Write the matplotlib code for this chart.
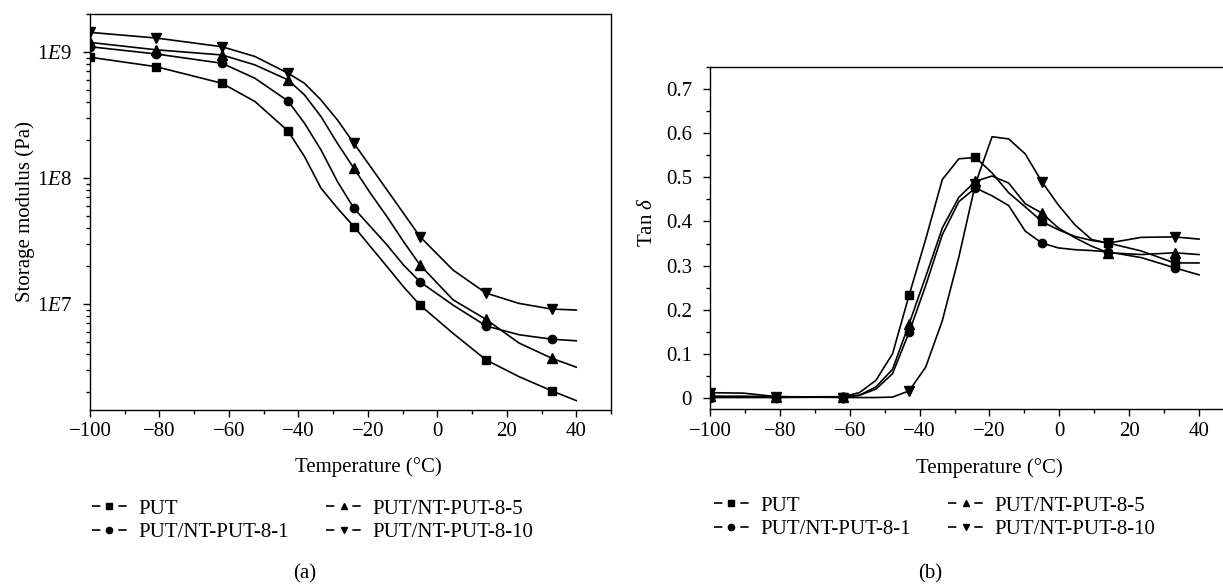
import matplotlib
matplotlib.use("Agg")
import matplotlib.pyplot as plt
from matplotlib.lines import Line2D
from matplotlib.ticker import LogLocator, NullFormatter, MultipleLocator

plt.rcParams['font.family'] = ['Liberation Serif', 'DejaVu Serif']
plt.rcParams['font.size'] = 15
plt.rcParams['mathtext.fontset'] = 'custom'
plt.rcParams['mathtext.rm'] = 'Liberation Serif'
plt.rcParams['mathtext.it'] = 'Liberation Serif:italic'

names = ['PUT', 'PUT/NT-PUT-8-1', 'PUT/NT-PUT-8-5', 'PUT/NT-PUT-8-10']
markers = ['s', 'o', '^', 'v']
mark_temps = [-100, -81, -62, -43, -24, -5, 14, 33]

# (a) storage modulus, Pa
temp_a = [-100, -81, -62, -52.5, -43, -38.25, -33.5, -28.75, -24, -19.25,
          -14.5, -9.75, -5, 4.5, 14, 23.5, 33, 40]
mod_put = [9.08e8, 7.64e8, 5.64e8, 4.04e8, 2.36e8, 1.48e8, 8.3e7, 5.75e7, 4.11e7,
           2.85e7, 1.98e7, 1.37e7, 9.8e6, 5.85e6, 3.6e6, 2.65e6, 2.04e6, 1.71e6]
mod_nt1 = [1.10e9, 9.64e8, 8.13e8, 6.18e8, 4.08e8, 2.72e8, 1.67e8, 9.35e7, 5.74e7,
           4.11e7, 2.94e7, 2.04e7, 1.50e7, 9.8e6, 6.7e6, 5.7e6, 5.25e6, 5.1e6]
mod_nt5 = [1.19e9, 1.04e9, 9.46e8, 7.89e8, 6.0e8, 4.56e8, 3.07e8, 1.88e8, 1.19e8,
           7.55e7, 4.93e7, 3.13e7, 2.04e7, 1.08e7, 7.55e6, 4.9e6, 3.7e6, 3.15e6]
mod_nt10 = [1.43e9, 1.29e9, 1.10e9, 9.2e8, 6.78e8, 5.64e8, 4.16e8, 2.88e8, 1.88e8,
            1.23e8, 8.04e7, 5.25e7, 3.42e7, 1.86e7, 1.22e7, 1.01e7, 9.1e6, 8.95e6]

# (b) tan delta
temp_b = [-100, -90.5, -81, -62, -57.25, -52.5, -47.75, -43, -38.25, -33.5, -28.75,
          -24, -19.25, -14.5, -9.75, -5, -0.25, 4.5, 9.25, 14, 23.5, 33, 40]
tan_put = [0.002, 0.002, 0.002, 0.003, 0.012, 0.04, 0.10, 0.233, 0.36, 0.495, 0.542,
           0.545, 0.51, 0.465, 0.433, 0.40, 0.381, 0.366, 0.357, 0.351, 0.333, 0.306, 0.306]
tan_nt1 = [0.001, 0.001, 0.001, 0.002, 0.006, 0.02, 0.055, 0.149, 0.255, 0.37, 0.445,
           0.476, 0.458, 0.436, 0.378, 0.351, 0.34, 0.336, 0.334, 0.331, 0.318, 0.295, 0.279]
tan_nt5 = [0.004, 0.004, 0.003, 0.002, 0.006, 0.025, 0.065, 0.168, 0.275, 0.385, 0.455,
           0.491, 0.503, 0.487, 0.44, 0.419, 0.385, 0.363, 0.344, 0.329, 0.325, 0.329, 0.325]
tan_nt10 = [0.012, 0.011, 0.003, 0.001, 0.001, 0.001, 0.002, 0.016, 0.07, 0.175, 0.32,
            0.486, 0.592, 0.587, 0.553, 0.49, 0.437, 0.392, 0.359, 0.351, 0.364, 0.365, 0.36]

W, H = 1223, 584


def px_box(x0, y0, x1, y1):
    return [x0 / W, 1 - y1 / H, (x1 - x0) / W, (y1 - y0) / H]


def style_axes(ax):
    ax.tick_params(which='both', direction='out', top=False, right=False,
                   width=1.0, colors='black')
    ax.tick_params(which='major', length=5)
    ax.tick_params(which='minor', length=3)
    ax.tick_params(axis='x', pad=4)
    ax.tick_params(axis='y', pad=8)
    for s in ax.spines.values():
        s.set_linewidth(1.0)


def draw(ax, temps, series, ms):
    idx = [temps.index(t) for t in mark_temps]
    for vals, m in zip(series, markers):
        ax.plot(temps, vals, color='black', lw=1.2, marker=m,
                ms=ms + (1 if m in '^v' else 0), markevery=idx)


def legend(fig, x, y):
    # short dash, gap round the marker, short dash: "-■-"
    handles = [Line2D([], [], color='black', lw=1.2, marker=m, ms=4.5,
                      dashes=(5.0, 10.8)) for m in markers]
    fig.legend(handles, names, loc='upper left', bbox_to_anchor=(x / W, 1 - y / H),
               ncol=2, frameon=False, borderpad=0, borderaxespad=0,
               handlelength=1.67, handletextpad=0.55, columnspacing=1.8,
               labelspacing=0.2, fontsize=15)


fig = plt.figure(figsize=(W / 100, H / 100), dpi=100)

ax_a = fig.add_axes(px_box(90, 14, 611, 410))
draw(ax_a, temp_a, [mod_put, mod_nt1, mod_nt5, mod_nt10], 6)
ax_a.set_yscale('log')
ax_a.set_xlim(-100, 50)
ax_a.set_ylim(1.44e6, 2.0e9)
ax_a.set_xticks(range(-100, 41, 20))
ax_a.xaxis.set_minor_locator(MultipleLocator(10))
ax_a.set_yticks([1e7, 1e8, 1e9], labels=[r'1$\mathit{E}$7', r'1$\mathit{E}$8', r'1$\mathit{E}$9'])
ax_a.yaxis.set_minor_locator(LogLocator(base=10, subs=range(2, 10)))
ax_a.yaxis.set_minor_formatter(NullFormatter())
style_axes(ax_a)

ax_b = fig.add_axes(px_box(710, 67, 1234, 409))
draw(ax_b, temp_b, [tan_put, tan_nt1, tan_nt5, tan_nt10], 6)
ax_b.set_xlim(-100, 50)
ax_b.set_ylim(-0.025, 0.75)
ax_b.set_xticks(range(-100, 41, 20))
ax_b.xaxis.set_minor_locator(MultipleLocator(10))
ax_b.set_yticks([0, 0.1, 0.2, 0.3, 0.4, 0.5, 0.6, 0.7],
                labels=['0', '0.1', '0.2', '0.3', '0.4', '0.5', '0.6', '0.7'])
ax_b.yaxis.set_minor_locator(MultipleLocator(0.05))
style_axes(ax_b)

fig.text(368 / W, 1 - 467 / H, 'Temperature (°C)', ha='center', va='center')
fig.text(989 / W, 1 - 468 / H, 'Temperature (°C)', ha='center', va='center')
fig.text(25 / W, 1 - 212 / H, 'Storage modulus (Pa)', rotation=90, ha='center', va='center')
fig.text(648 / W, 1 - 222 / H, r'Tan $\mathit{\delta}$', rotation=90, ha='center', va='center')

legend(fig, 92, 499)
legend(fig, 714, 496)

fig.text(305 / W, 1 - 574 / H, '(a)', ha='center', va='center')
fig.text(930 / W, 1 - 574 / H, '(b)', ha='center', va='center')

fig.savefig('out.png', dpi=100)
